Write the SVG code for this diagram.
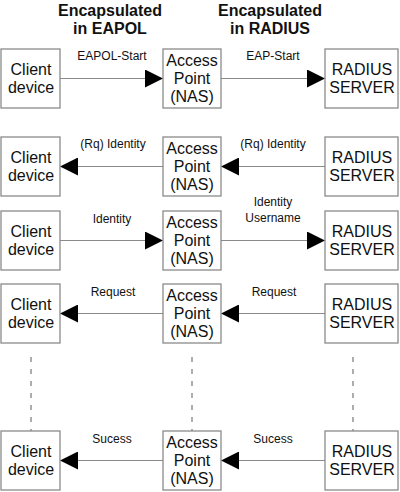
<svg xmlns="http://www.w3.org/2000/svg" width="400" height="492" viewBox="0 0 400 492">
<defs>
<style>
.box{fill:#fff;stroke:#8a8a8a;stroke-width:1.3}
.t{font-family:"Liberation Sans",Arial,sans-serif;font-size:16px;fill:#111;text-anchor:middle}
.l{font-family:"Liberation Sans",Arial,sans-serif;font-size:12px;fill:#111;text-anchor:middle}
.h{font-family:"Liberation Sans",Arial,sans-serif;font-size:16px;font-weight:bold;fill:#111;text-anchor:middle}
.c{stroke:#8a8a8a;stroke-width:1.2;fill:none;marker-end:url(#ah)}
.d{stroke:#777;stroke-width:1.2;stroke-dasharray:5 7;fill:none}
</style>
<marker id="ah" markerUnits="userSpaceOnUse" markerWidth="18" markerHeight="18" refX="18" refY="9" orient="auto">
<path d="M0,0 L18,9 L0,18 z" fill="#000"/>
</marker>
</defs>
<g id="titles">
<text class="h" x="110" y="16">Encapsulated</text>
<text class="h" x="110" y="34">in EAPOL</text>
<text class="h" x="270" y="16">Encapsulated</text>
<text class="h" x="270" y="34">in RADIUS</text>
</g>
<g id="connectors">
<line class="c" x1="60" y1="78.5" x2="163" y2="78.5"/>
<line class="c" x1="221" y1="78.5" x2="325" y2="78.5"/>
<line class="c" x1="163" y1="166.5" x2="60" y2="166.5"/>
<line class="c" x1="325" y1="166.5" x2="221" y2="166.5"/>
<line class="c" x1="60" y1="240.5" x2="163" y2="240.5"/>
<line class="c" x1="221" y1="240.5" x2="325" y2="240.5"/>
<line class="c" x1="163" y1="313.5" x2="60" y2="313.5"/>
<line class="c" x1="325" y1="313.5" x2="221" y2="313.5"/>
<line class="c" x1="163" y1="460.5" x2="60" y2="460.5"/>
<line class="c" x1="325" y1="460.5" x2="221" y2="460.5"/>
<line class="d" x1="31" y1="357" x2="31" y2="431"/>
<line class="d" x1="192" y1="357" x2="192" y2="431"/>
<line class="d" x1="353" y1="357" x2="353" y2="431"/>
<text class="l" x="112" y="60">EAPOL-Start</text>
<text class="l" x="273" y="60">EAP-Start</text>
<text class="l" x="113" y="148">(Rq) Identity</text>
<text class="l" x="273" y="148">(Rq) Identity</text>
<text class="l" x="112" y="223">Identity</text>
<text class="l" x="273" y="206">Identity</text>
<text class="l" x="273" y="222">Username</text>
<text class="l" x="113" y="296">Request</text>
<text class="l" x="274" y="296">Request</text>
<text class="l" x="112" y="443">Sucess</text>
<text class="l" x="273" y="443">Sucess</text>
</g>
<g id="client1"><rect class="box" x="1" y="49" width="59" height="59"/><text class="t" x="31" y="75">Client</text><text class="t" x="31" y="93">device</text></g>
<g id="ap1"><rect class="box" x="163" y="49" width="58" height="59"/><text class="t" x="192" y="66">Access</text><text class="t" x="192" y="84">Point</text><text class="t" x="192" y="102">(NAS)</text></g>
<g id="radius1"><rect class="box" x="325" y="49" width="73" height="59"/><text class="t" x="362" y="75">RADIUS</text><text class="t" x="362" y="93">SERVER</text></g>
<g id="client2"><rect class="box" x="1" y="137" width="59" height="59"/><text class="t" x="31" y="163">Client</text><text class="t" x="31" y="181">device</text></g>
<g id="ap2"><rect class="box" x="163" y="137" width="58" height="59"/><text class="t" x="192" y="154">Access</text><text class="t" x="192" y="172">Point</text><text class="t" x="192" y="190">(NAS)</text></g>
<g id="radius2"><rect class="box" x="325" y="137" width="73" height="59"/><text class="t" x="362" y="163">RADIUS</text><text class="t" x="362" y="181">SERVER</text></g>
<g id="client3"><rect class="box" x="1" y="211" width="59" height="59"/><text class="t" x="31" y="237">Client</text><text class="t" x="31" y="255">device</text></g>
<g id="ap3"><rect class="box" x="163" y="211" width="58" height="59"/><text class="t" x="192" y="228">Access</text><text class="t" x="192" y="246">Point</text><text class="t" x="192" y="264">(NAS)</text></g>
<g id="radius3"><rect class="box" x="325" y="211" width="73" height="59"/><text class="t" x="362" y="237">RADIUS</text><text class="t" x="362" y="255">SERVER</text></g>
<g id="client4"><rect class="box" x="1" y="284" width="59" height="59"/><text class="t" x="31" y="310">Client</text><text class="t" x="31" y="328">device</text></g>
<g id="ap4"><rect class="box" x="163" y="284" width="58" height="59"/><text class="t" x="192" y="301">Access</text><text class="t" x="192" y="319">Point</text><text class="t" x="192" y="337">(NAS)</text></g>
<g id="radius4"><rect class="box" x="325" y="284" width="73" height="59"/><text class="t" x="362" y="310">RADIUS</text><text class="t" x="362" y="328">SERVER</text></g>
<g id="client5"><rect class="box" x="1" y="431" width="59" height="59"/><text class="t" x="31" y="457">Client</text><text class="t" x="31" y="475">device</text></g>
<g id="ap5"><rect class="box" x="163" y="431" width="58" height="59"/><text class="t" x="192" y="448">Access</text><text class="t" x="192" y="466">Point</text><text class="t" x="192" y="484">(NAS)</text></g>
<g id="radius5"><rect class="box" x="325" y="431" width="73" height="59"/><text class="t" x="362" y="457">RADIUS</text><text class="t" x="362" y="475">SERVER</text></g>
</svg>
